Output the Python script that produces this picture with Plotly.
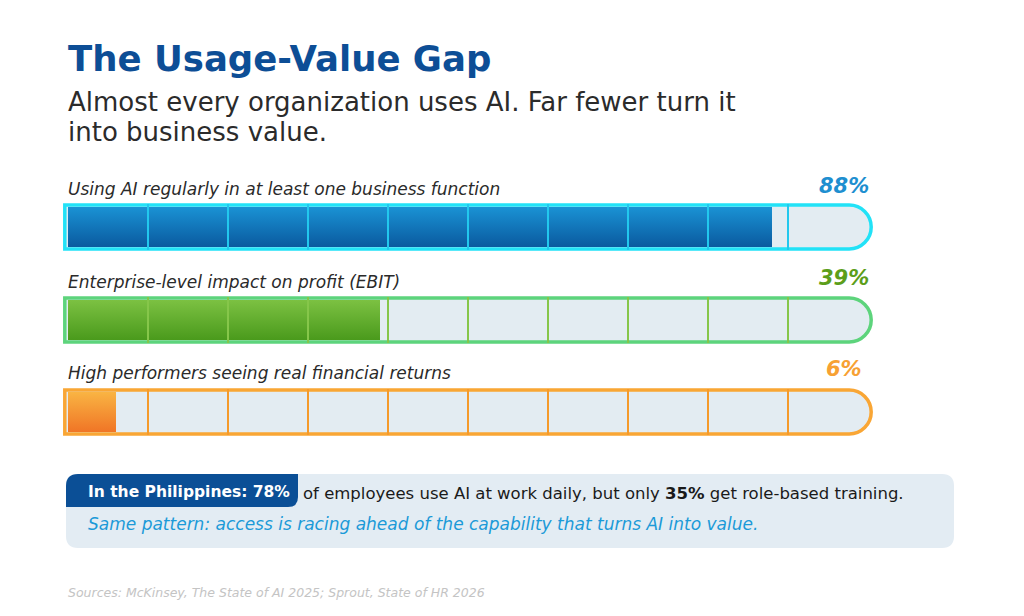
import plotly.graph_objects as go

# bar data
labels = ["Using AI regularly in at least one business function",
          "Enterprise-level impact on profit (EBIT)",
          "High performers seeing real financial returns"]
values = [88, 39, 6]
pct_text = ["88%", "39%", "6%"]

# style per bar (fill top, fill bottom, border, divider, label colour)
fill_top = ["#1a92d4", "#7cc142", "#f9b443"]
fill_bot = ["#0a5a9f", "#4a9a1c", "#f07526"]
border_col = ["#22e2f7", "#5dd47c", "#f9a635"]
divider_col = ["#22c8ee", "#86c64a", "#f59a2a"]
pct_col = ["#1e8fd0", "#5c9e1a", "#f7a133"]

bar_cy = [227, 320, 412]   # pixel centres (page coords)
label_y = [189, 282, 373]
pct_y = [186, 278, 369]
half_h = 22
W, H = 1024, 616
OFF = 8                    # browser body margin
FONT = "DejaVu Sans"
X0PX, UPX = 68, 8.0        # 0% sits at 68px, 1% = 8px

fig = go.Figure()

shapes = []
k = 0.5523
r_units = half_h / UPX

for i in range(3):
    cy = bar_cy[i]
    top, bot = cy - half_h, cy + half_h
    x0, x1 = -0.4, 100.4 - r_units
    # track with rounded right end
    path = (f"M {x0},{top} L {x1},{top} "
            f"C {x1 + k*r_units},{top} {x1 + r_units},{cy - k*half_h} {x1 + r_units},{cy} "
            f"C {x1 + r_units},{cy + k*half_h} {x1 + k*r_units},{bot} {x1},{bot} "
            f"L {x0},{bot} Z")
    shapes.append(dict(type="path", path=path, xref="x", yref="y",
                       fillcolor="#e3ecf2", line=dict(color=border_col[i], width=3.5),
                       layer="below"))
    # filled portion
    v = values[i]
    ft, fb = top + 2, bot - 2
    fig.add_trace(go.Scatter(
        x=[0, v, v, 0, 0], y=[ft, ft, fb, fb, ft], mode="lines",
        line=dict(width=0), fill="toself",
        fillgradient=dict(type="vertical",
                          colorscale=[[0, fill_bot[i]], [1, fill_top[i]]]),
        hoverinfo="skip", showlegend=False))
    # dividers
    for d in range(10, 100, 10):
        shapes.append(dict(type="line", xref="x", yref="y", x0=d, x1=d,
                           y0=top - 1, y1=bot + 1,
                           line=dict(color=divider_col[i], width=2), layer="above"))

def px(x):
    return (x - OFF) / W

# callout box
bx0, bx1, by0, by1, rr = 66, 954, 474, 548, 12
shapes.append(dict(type="path", xref="paper", yref="y", layer="below",
                   path=(f"M {px(bx0+rr)},{by0} L {px(bx1-rr)},{by0} Q {px(bx1)},{by0} {px(bx1)},{by0+rr} "
                         f"L {px(bx1)},{by1-rr} Q {px(bx1)},{by1} {px(bx1-rr)},{by1} L {px(bx0+rr)},{by1} "
                         f"Q {px(bx0)},{by1} {px(bx0)},{by1-rr} L {px(bx0)},{by0+rr} "
                         f"Q {px(bx0)},{by0} {px(bx0+rr)},{by0} Z"),
                   fillcolor="#e3ecf3", line=dict(width=0)))
tx1, ty1 = 298, 507
shapes.append(dict(type="path", xref="paper", yref="y", layer="below",
                   path=(f"M {px(bx0+rr)},{by0} L {px(tx1)},{by0} L {px(tx1)},{ty1-10} "
                         f"Q {px(tx1)},{ty1} {px(tx1-10)},{ty1} L {px(bx0)},{ty1} L {px(bx0)},{by0+rr} "
                         f"Q {px(bx0)},{by0} {px(bx0+rr)},{by0} Z"),
                   fillcolor="#0b4f96", line=dict(width=0)))

ann = []
def txt(x, y, s, size, color, bold=False, italic=False, xanchor="left"):
    if bold:
        s = f"<b>{s}</b>"
    if italic:
        s = f"<i>{s}</i>"
    ann.append(dict(x=px(x), y=y, xref="paper", yref="y", text=s, showarrow=False,
                    xanchor=xanchor, yanchor="middle",
                    font=dict(family=FONT, size=size, color=color)))

txt(66, 58, "The Usage-Value Gap", 35.5, "#0d4e96", bold=True)
txt(66, 102, "Almost every organization uses AI. Far fewer turn it", 26, "#2b2b2b")
txt(66, 132, "into business value.", 26, "#2b2b2b")

for i in range(3):
    txt(66, label_y[i], labels[i], 17, "#2a2a2a", italic=True)
    txt(844, pct_y[i], pct_text[i], 21, pct_col[i], bold=True, italic=True, xanchor="center")

txt(86, 492, "In the Philippines: 78%", 15.5, "#ffffff", bold=True)
txt(301, 493, "of employees use AI at work daily, but only <b>35%</b> get role-based training.",
    16.5, "#1a1a1a")
txt(86, 524, "Same pattern: access is racing ahead of the capability that turns AI into value.",
    17, "#1b9ad8", italic=True)
txt(66, 592, "Sources: McKinsey, The State of AI 2025; Sprout, State of HR 2026",
    12.5, "#c4c4c4", italic=True)

fig.update_layout(
    width=W, height=H, margin=dict(l=0, r=0, t=0, b=0),
    paper_bgcolor="white", plot_bgcolor="white",
    xaxis=dict(domain=[0, 1],
               range=[-(X0PX - OFF) / UPX, (W - (X0PX - OFF)) / UPX],
               visible=False, fixedrange=True),
    yaxis=dict(domain=[0, 1], range=[H + OFF, OFF], visible=False, fixedrange=True),
    shapes=shapes, annotations=ann, showlegend=False,
)

fig.write_html("out.html")
